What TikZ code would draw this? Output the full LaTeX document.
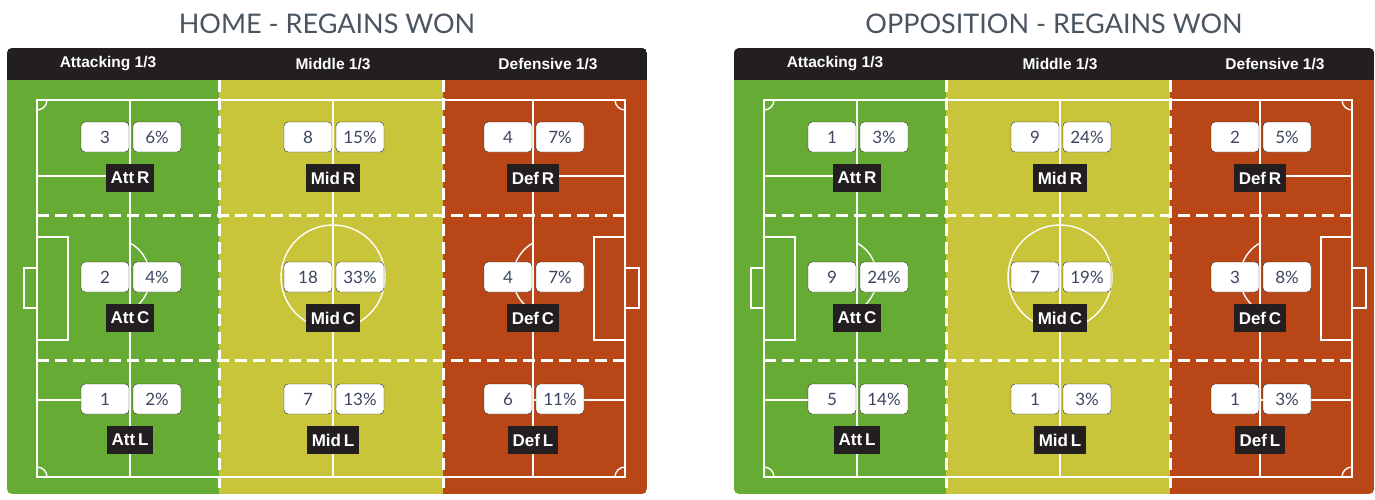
\documentclass[tikz,border=0pt]{standalone}
\usepackage{fontspec}
\setmainfont{Lato}
\newfontfamily\headfont{Liberation Sans}
\definecolor{attgreen}{HTML}{66AC34}
\definecolor{midyellow}{HTML}{C9C53A}
\definecolor{defred}{HTML}{B94616}
\definecolor{headblack}{HTML}{231F20}
\definecolor{titlegrey}{HTML}{4A5560}
\definecolor{numblue}{HTML}{3C4660}
\tikzset{
  pline/.style={white,line width=1.4pt},
  zoneline/.style={white,line width=3pt,dash pattern=on 12pt off 6pt},
  valbox/.style={draw=headblack,fill=white,rounded corners=4pt,minimum width=48pt,minimum height=30pt,inner sep=0pt,font=\fontsize{17}{17}\selectfont,text=numblue},
  zonelabel/.style={fill=headblack,text=white,minimum height=28pt,inner xsep=5pt,font=\headfont\bfseries\fontsize{17}{17}\selectfont},
  headtext/.style={text=white,font=\headfont\bfseries\fontsize{15.5}{16}\selectfont}
}
% one panel: x offset, title, then col/row/id/label/number/percent list
\newcommand{\regainpanel}[4]{%
  \begin{scope}[xshift=#1]
    \node[text=titlegrey,font=\fontsize{27}{27}\selectfont] (title#4) at (327,24) {#2};
    \begin{scope}
      \clip[rounded corners=5pt] (7,48) rectangle (647,494);
      \fill[attgreen] (7,48) rectangle (219,494);
      \fill[midyellow] (219,48) rectangle (443,494);
      \fill[defred] (443,48) rectangle (647,494);
      \fill[headblack] (7,48) rectangle (647,80);
    \end{scope}
    \node[headtext] (hatt#4) at (108,64) {Attacking 1/3};
    \node[headtext] (hmid#4) at (333,64) {Middle 1/3};
    \node[headtext] (hdef#4) at (548,64) {Defensive 1/3};
    % pitch markings
    \draw[pline] (37,100) rectangle (625,477);
    \foreach \cx in {130,333,533} \draw[pline] (\cx,100) -- (\cx,477);
    \draw[pline] (37,176) -- (130,176) (37,400) -- (130,400);
    \draw[pline] (533,176) -- (625,176) (533,400) -- (625,400);
    \draw[pline] (333,277) circle (52);
    \begin{scope}
      \clip (130,200) rectangle (200,350);
      \draw[pline] (111,277) circle (39);
    \end{scope}
    \begin{scope}
      \clip (460,200) rectangle (533,350);
      \draw[pline] (552,277) circle (39);
    \end{scope}
    \draw[pline] (37,237) rectangle (68,340) (24,268) rectangle (37,308);
    \draw[pline] (594,237) rectangle (625,340) (625,268) rectangle (639,308);
    \draw[pline] (37,110) arc (90:0:10);
    \draw[pline] (37,467) arc (-90:0:10);
    \draw[pline] (625,110) arc (90:180:10);
    \draw[pline] (625,467) arc (-90:-180:10);
    % zone borders
    \draw[zoneline] (37,215) -- (625,215);
    \draw[zoneline] (37,360) -- (625,360);
    \draw[zoneline] (219,80) -- (219,494);
    \draw[zoneline] (443,80) -- (443,494);
    % values and labels
    \foreach \cx/\ry/\id/\lab/\n/\p in {#3} {
      \node[valbox] (n\id#4) at (\cx-25,\ry) {\n};
      \node[valbox] (p\id#4) at (\cx+27,\ry) {\p\%};
      \node[zonelabel] (l\id#4) at (\cx,\ry+41) {\lab};
    }
  \end{scope}}
\begin{document}
\begin{tikzpicture}[x=1pt,y=-1pt]
\useasboundingbox (0,0) rectangle (1375,499);
\regainpanel{0}{HOME - REGAINS WON}{130/137/ar/Att\,R/3/6,333/137/mr/Mid\,R/8/15,533/137/dr/Def\,R/4/7,
  130/277/ac/Att\,C/2/4,333/277/mc/Mid\,C/18/33,533/277/dc/Def\,C/4/7,
  130/399/al/Att\,L/1/2,333/399/ml/Mid\,L/7/13,533/399/dl/Def\,L/6/11}{home}
\regainpanel{727}{OPPOSITION - REGAINS WON}{130/137/ar/Att\,R/1/3,333/137/mr/Mid\,R/9/24,533/137/dr/Def\,R/2/5,
  130/277/ac/Att\,C/9/24,333/277/mc/Mid\,C/7/19,533/277/dc/Def\,C/3/8,
  130/399/al/Att\,L/5/14,333/399/ml/Mid\,L/1/3,533/399/dl/Def\,L/1/3}{opp}
\end{tikzpicture}
\end{document}
